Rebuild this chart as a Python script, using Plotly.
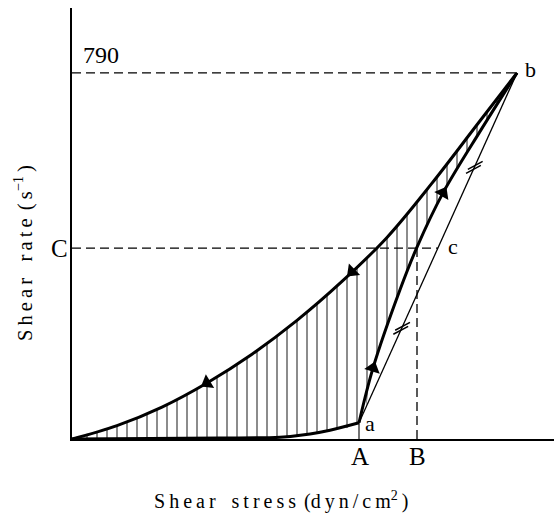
import plotly.graph_objects as go
import math

# ---------------- data ----------------
# return (down) curve, drawn from O up to b
down_stress = [0, 45, 90, 135, 180, 225, 270, 315, 360, 405, 445]
down_rate = [0, 29, 69, 121, 183, 256, 340, 435, 552, 678, 790]

# up curve, first part O -> a
up1_stress = [0, 78, 148, 208, 238, 258, 287]
up1_rate = [0, 1, 2, 4, 11, 19, 35]

# up curve, second part a -> b
up2_stress = [287, 301, 328, 345, 371, 409, 445]
up2_rate = [35, 153, 322, 414, 531, 667, 790]

A_stress = 287
a_rate = 35
B_stress = 345
b_stress = 445
b_rate = 790
C_rate = 412
c_stress = 366

# arrow heads (position on curve, direction in degrees clockwise from up)
arrow_stress = [135, 280, 301, 371]
arrow_rate = [121, 361, 153, 531]
arrow_angle = [239, 226, 17, 29]

# equal-length marks on the thin chord a-b (fraction along the chord)
tick_frac = [0.27, 0.73]

# ---------------- figure ----------------
W, H = 554, 518
ML, MR, MT, MB = 72, 0, 8, 79
XMAX = 482
YMAX = 930
x_per_px = XMAX / (W - ML - MR)
y_per_px = YMAX / (H - MT - MB)

SERIF = "Liberation Serif, Times New Roman, serif"
TS = "\u2009"  # thin space used as letter spacing


def spaced(words):
    return (TS * 4).join(TS.join(w) for w in words)


fig = go.Figure()

# hatched area between the two curves
poly_x = down_stress + up2_stress[::-1][1:] + up1_stress[::-1][1:]
poly_y = down_rate + up2_rate[::-1][1:] + up1_rate[::-1][1:]
fig.add_trace(go.Scatter(
    x=poly_x, y=poly_y, mode="lines", fill="toself",
    line=dict(width=0, shape="spline", color="black"),
    fillcolor="rgba(0,0,0,0)",
    fillpattern=dict(shape="|", size=10, solidity=0.18,
                     fgcolor="black", bgcolor="rgba(0,0,0,0)", fillmode="overlay"),
    hoverinfo="skip", showlegend=False))

# dashed guide lines
dash = "9px,5px"
fig.add_trace(go.Scatter(x=[0, b_stress], y=[b_rate, b_rate], mode="lines",
                         line=dict(color="black", width=1.3, dash=dash),
                         hoverinfo="skip", showlegend=False))
fig.add_trace(go.Scatter(x=[0, c_stress], y=[C_rate, C_rate], mode="lines",
                         line=dict(color="black", width=1.3, dash=dash),
                         hoverinfo="skip", showlegend=False))
fig.add_trace(go.Scatter(x=[B_stress, B_stress], y=[C_rate, 0], mode="lines",
                         line=dict(color="black", width=1.3, dash=dash),
                         hoverinfo="skip", showlegend=False))

# thin lines: a -> A and chord a -> b
fig.add_trace(go.Scatter(x=[A_stress, A_stress], y=[a_rate, 0], mode="lines",
                         line=dict(color="black", width=1.1),
                         hoverinfo="skip", showlegend=False))
fig.add_trace(go.Scatter(x=[A_stress, b_stress], y=[a_rate, b_rate], mode="lines",
                         line=dict(color="black", width=1.3),
                         hoverinfo="skip", showlegend=False))

# thick curves
for xs, ys in [(down_stress, down_rate), (up1_stress, up1_rate), (up2_stress, up2_rate)]:
    fig.add_trace(go.Scatter(x=xs, y=ys, mode="lines",
                             line=dict(color="black", width=3, shape="spline", smoothing=1),
                             hoverinfo="skip", showlegend=False))

# arrow heads
fig.add_trace(go.Scatter(x=arrow_stress, y=arrow_rate, mode="markers",
                         marker=dict(symbol="triangle-up", size=14, color="black",
                                     angle=arrow_angle, line=dict(width=0)),
                         hoverinfo="skip", showlegend=False))

# double tick marks on the chord
dxp = (b_stress - A_stress) / x_per_px
dyp = (b_rate - a_rate) / y_per_px
L = math.hypot(dxp, dyp)
ux, uy = dxp / L, dyp / L
tx, ty = [], []
for f in tick_frac:
    cx = A_stress + f * (b_stress - A_stress)
    cy = a_rate + f * (b_rate - a_rate)
    for s in (-2.2, 2.2):
        tx.append(cx + s * ux * x_per_px)
        ty.append(cy + s * uy * y_per_px)
fig.add_trace(go.Scatter(x=tx, y=ty, mode="markers",
                         marker=dict(symbol="line-ew", size=12, angle=-28,
                                     line=dict(color="black", width=1.5)),
                         hoverinfo="skip", showlegend=False))


# labels
def lab(text, x, y, xs=0, ys=0, size=22, xanchor="center"):
    fig.add_annotation(text=text, x=x, y=y, xref="x", yref="y", showarrow=False,
                       xshift=xs, yshift=ys, xanchor=xanchor, yanchor="middle",
                       font=dict(family=SERIF, size=size, color="black"))


lab("790", 0, b_rate, xs=9, ys=18, xanchor="left", size=24)
lab("C", 0, C_rate, xs=-13, ys=0, size=25)
lab("b", b_stress, b_rate, xs=13, ys=3, size=22)
lab("c", c_stress, C_rate, xs=15, ys=2, size=22)
lab("a", A_stress, a_rate, xs=11, ys=-1, size=22)
lab("A", A_stress, 0, xs=1, ys=-17, size=25)
lab("B", B_stress, 0, xs=0, ys=-17, size=25)

xtitle = spaced(["Shear", "stress"]) + TS * 2 + "(" + TS.join("dyn/cm") + "<sup>2</sup>" + TS + ")"
ytitle = spaced(["Shear", "rate"]) + TS * 2 + "(" + TS + "s<sup>−1</sup>" + TS + ")"

fig.add_annotation(text=xtitle, xref="paper", yref="paper",
                   x=(281 - ML) / (W - ML - MR), y=0, yshift=-61, showarrow=False,
                   xanchor="center", yanchor="middle",
                   font=dict(family=SERIF, size=20, color="black"))
fig.add_annotation(text=ytitle, xref="paper", yref="paper",
                   x=(23 - ML) / (W - ML - MR), y=(H - MB - 253) / (H - MT - MB),
                   textangle=-90, showarrow=False, xanchor="center", yanchor="middle",
                   font=dict(family=SERIF, size=20.5, color="black"))

fig.update_layout(
    width=W, height=H,
    margin=dict(l=ML, r=MR, t=MT, b=MB),
    paper_bgcolor="white", plot_bgcolor="white",
    xaxis=dict(range=[0, XMAX], showgrid=False, zeroline=False, showticklabels=False,
               ticks="", showline=True, linecolor="black", linewidth=1.6, fixedrange=True),
    yaxis=dict(range=[0, YMAX], showgrid=False, zeroline=False, showticklabels=False,
               ticks="", showline=True, linecolor="black", linewidth=2, fixedrange=True),
)

fig.write_html("out.html", config={"displayModeBar": False},
               post_script="document.body.style.margin='0px';")
